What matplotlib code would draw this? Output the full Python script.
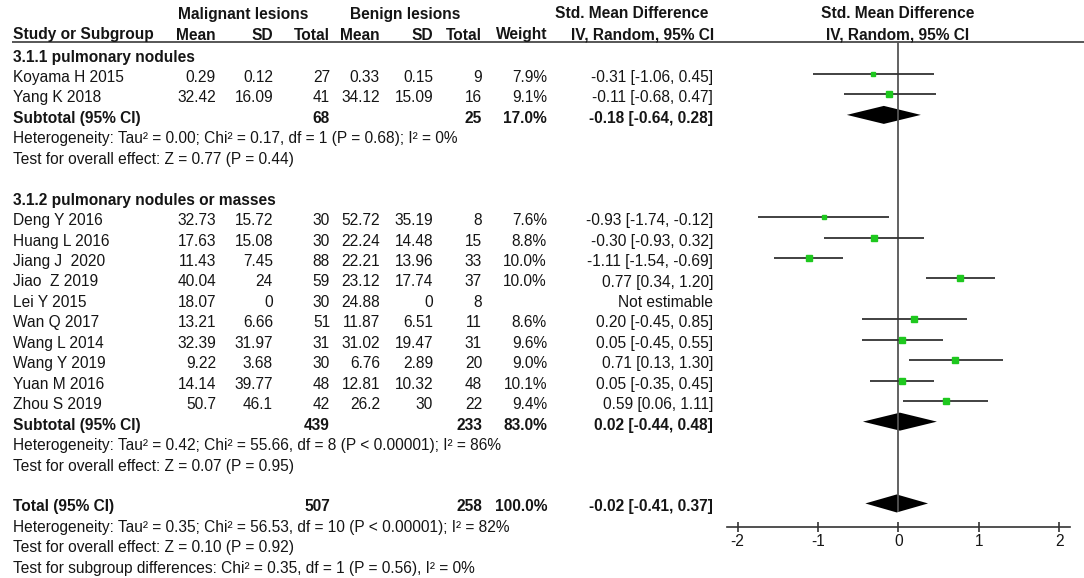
import matplotlib
matplotlib.use("Agg")
import matplotlib.pyplot as plt

plt.rcParams['font.family'] = ['Liberation Sans', 'DejaVu Sans']
plt.rcParams['axes.unicode_minus'] = False

# ---------------- data ----------------
studies = ["Koyama H 2015", "Yang K 2018",
           "Deng Y 2016", "Huang L 2016", "Jiang J  2020", "Jiao  Z 2019", "Lei Y 2015",
           "Wan Q 2017", "Wang L 2014", "Wang Y 2019", "Yuan M 2016", "Zhou S 2019"]
group = [1, 1, 2, 2, 2, 2, 2, 2, 2, 2, 2, 2]
m_mean = [0.29, 32.42, 32.73, 17.63, 11.43, 40.04, 18.07, 13.21, 32.39, 9.22, 14.14, 50.7]
m_sd = [0.12, 16.09, 15.72, 15.08, 7.45, 24, 0, 6.66, 31.97, 3.68, 39.77, 46.1]
m_n = [27, 41, 30, 30, 88, 59, 30, 51, 31, 30, 48, 42]
b_mean = [0.33, 34.12, 52.72, 22.24, 22.21, 23.12, 24.88, 11.87, 31.02, 6.76, 12.81, 26.2]
b_sd = [0.15, 15.09, 35.19, 14.48, 13.96, 17.74, 0, 6.51, 19.47, 2.89, 10.32, 30]
b_n = [9, 16, 8, 15, 33, 37, 8, 11, 31, 20, 48, 22]
weight = [7.9, 9.1, 7.6, 8.8, 10.0, 10.0, None, 8.6, 9.6, 9.0, 10.1, 9.4]
smd = [-0.31, -0.11, -0.93, -0.30, -1.11, 0.77, None, 0.20, 0.05, 0.71, 0.05, 0.59]
ci_lo = [-1.06, -0.68, -1.74, -0.93, -1.54, 0.34, None, -0.45, -0.45, 0.13, -0.35, 0.06]
ci_hi = [0.45, 0.47, -0.12, 0.32, -0.69, 1.20, None, 0.85, 0.55, 1.30, 0.45, 1.11]

group_titles = ["3.1.1 pulmonary nodules", "3.1.2 pulmonary nodules or masses"]
sub_m_n = [68, 439]
sub_b_n = [25, 233]
sub_w = [17.0, 83.0]
sub_est = [-0.18, 0.02]
sub_lo = [-0.64, -0.44]
sub_hi = [0.28, 0.48]
sub_het = ["Heterogeneity: Tau\u00b2 = 0.00; Chi\u00b2 = 0.17, df = 1 (P = 0.68); I\u00b2 = 0%",
           "Heterogeneity: Tau\u00b2 = 0.42; Chi\u00b2 = 55.66, df = 8 (P < 0.00001); I\u00b2 = 86%"]
sub_test = ["Test for overall effect: Z = 0.77 (P = 0.44)",
            "Test for overall effect: Z = 0.07 (P = 0.95)"]

tot_m_n = 507
tot_b_n = 258
tot_w = 100.0
tot_est = -0.02
tot_lo = -0.41
tot_hi = 0.37
tot_notes = ["Heterogeneity: Tau\u00b2 = 0.35; Chi\u00b2 = 56.53, df = 10 (P < 0.00001); I\u00b2 = 82%",
             "Test for overall effect: Z = 0.10 (P = 0.92)",
             "Test for subgroup differences: Chi\u00b2 = 0.35, df = 1 (P = 0.56), I\u00b2 = 0%"]

x_ticks = [-2, -1, 0, 1, 2]
x_tick_labels = ["-2", "-1", "0", "1", "2"]

# ---------------- layout ----------------
W, H = 1084, 578
fig = plt.figure(figsize=(W / 100, H / 100), dpi=100)
ax_t = fig.add_axes([0, 0, 1, 1])
ax_t.set_xlim(0, W)
ax_t.set_ylim(H, 0)
ax_t.axis('off')

FS = 11.2
TXT = '#151515'
ROW0, ROWH = 77.5, 20.45
MARK_OFF = -3.5

def ry(i):
    return ROW0 + ROWH * i

X_NAME = 13
X_MMEAN, X_MSD, X_MN = 216, 273, 330
X_BMEAN, X_BSD, X_BN = 380, 433, 482
X_W, X_CI = 547, 713

def txt(x, y, s, ha='left', bold=False, size=FS):
    ax_t.text(x, y, s, ha=ha, va='center', fontsize=size, color=TXT,
              fontweight='bold' if bold else 'normal')

def fmt(v):
    return f"{v:g}"

def fci(e, l, h):
    return f"{e:.2f} [{l:.2f}, {h:.2f}]"

# headers
txt(243, 14, "Malignant lesions", ha='center', bold=True)
txt(405, 14, "Benign lesions", ha='center', bold=True)
txt(632, 14, "Std. Mean Difference", ha='center', bold=True)
txt(898, 14, "Std. Mean Difference", ha='center', bold=True)
hy = 35
txt(X_NAME, hy, "Study or Subgroup", bold=True)
txt(X_MMEAN, hy, "Mean", ha='right', bold=True)
txt(X_MSD, hy, "SD", ha='right', bold=True)
txt(X_MN, hy, "Total", ha='right', bold=True)
txt(X_BMEAN, hy, "Mean", ha='right', bold=True)
txt(X_BSD, hy, "SD", ha='right', bold=True)
txt(X_BN, hy, "Total", ha='right', bold=True)
txt(X_W, hy, "Weight", ha='right', bold=True)
txt(643, hy, "IV, Random, 95% CI", ha='center', bold=True)
txt(898, hy, "IV, Random, 95% CI", ha='center', bold=True)
ax_t.plot([12, W], [42, 42], color='#3a3a3a', lw=1.2, solid_capstyle='butt')

# ---------------- forest axes ----------------
AX_L, AX_R = 726.7, 1070.0
ZERO_PX, UNIT_PX = 898.3, 80.4
AX_TOP, AX_BOT = 42, 527
ax_f = fig.add_axes([AX_L / W, (H - AX_BOT) / H, (AX_R - AX_L) / W, (AX_BOT - AX_TOP) / H])
ax_f.set_xlim((AX_L - ZERO_PX) / UNIT_PX, (AX_R - ZERO_PX) / UNIT_PX)
def rrow(py):
    return (py - (ROW0 + MARK_OFF)) / ROWH
ax_f.set_ylim(rrow(AX_BOT), rrow(AX_TOP))
ax_f.patch.set_visible(False)
for s in ['top', 'left', 'right']:
    ax_f.spines[s].set_visible(False)
ax_f.spines['bottom'].set_color('#333333')
ax_f.spines['bottom'].set_linewidth(1.2)
ax_f.set_yticks([])
ax_f.set_xticks(x_ticks)
ax_f.set_xticklabels(x_tick_labels)
ax_f.tick_params(axis='x', direction='inout', length=6.5, width=1.2, color='#333333',
                 labelsize=FS, labelcolor=TXT, pad=1.5)

DIA_H = 9.0 / ROWH

def diamond(r, e, l, h):
    ax_f.fill([l, e, h, e], [r, r - DIA_H, r, r + DIA_H], color='black', lw=0)

# ---------------- rows ----------------
row = -1
tot_row = None
for g in (1, 2):
    txt(X_NAME, ry(row), group_titles[g - 1], bold=True)
    row += 1
    for k in range(len(studies)):
        if group[k] != g:
            continue
        y = ry(row)
        txt(X_NAME, y, studies[k])
        txt(X_MMEAN, y, fmt(m_mean[k]), ha='right')
        txt(X_MSD, y, fmt(m_sd[k]), ha='right')
        txt(X_MN, y, str(m_n[k]), ha='right')
        txt(X_BMEAN, y, fmt(b_mean[k]), ha='right')
        txt(X_BSD, y, fmt(b_sd[k]), ha='right')
        txt(X_BN, y, str(b_n[k]), ha='right')
        if smd[k] is None:
            txt(X_CI, y, "Not estimable", ha='right')
        else:
            txt(X_W, y, f"{weight[k]:.1f}%", ha='right')
            txt(X_CI, y, fci(smd[k], ci_lo[k], ci_hi[k]), ha='right')
            ax_f.plot([ci_lo[k], ci_hi[k]], [row, row], color='#333333', lw=1.3,
                      solid_capstyle='butt')
            ax_f.plot([smd[k]], [row], marker='s', ms=weight[k] * 0.42,
                      color='#1ec81e', mec='#1ec81e', lw=0)
        row += 1
    y = ry(row)
    txt(X_NAME, y, "Subtotal (95% CI)", bold=True)
    txt(X_MN, y, str(sub_m_n[g - 1]), ha='right', bold=True)
    txt(X_BN, y, str(sub_b_n[g - 1]), ha='right', bold=True)
    txt(X_W, y, f"{sub_w[g - 1]:.1f}%", ha='right', bold=True)
    txt(X_CI, y, fci(sub_est[g - 1], sub_lo[g - 1], sub_hi[g - 1]), ha='right', bold=True)
    diamond(row, sub_est[g - 1], sub_lo[g - 1], sub_hi[g - 1])
    row += 1
    txt(X_NAME, ry(row), sub_het[g - 1])
    row += 1
    txt(X_NAME, ry(row), sub_test[g - 1])
    row += 2

y = ry(row)
txt(X_NAME, y, "Total (95% CI)", bold=True)
txt(X_MN, y, str(tot_m_n), ha='right', bold=True)
txt(X_BN, y, str(tot_b_n), ha='right', bold=True)
txt(X_W, y, f"{tot_w:.1f}%", ha='right', bold=True)
txt(X_CI, y, fci(tot_est, tot_lo, tot_hi), ha='right', bold=True)
diamond(row, tot_est, tot_lo, tot_hi)
tot_row = row
for note in tot_notes:
    row += 1
    txt(X_NAME, ry(row), note)

ax_f.plot([0, 0], [rrow(AX_TOP), tot_row + DIA_H], color='#555555', lw=1.3,
          solid_capstyle='butt', zorder=1)

fig.savefig("out.png", dpi=100)
